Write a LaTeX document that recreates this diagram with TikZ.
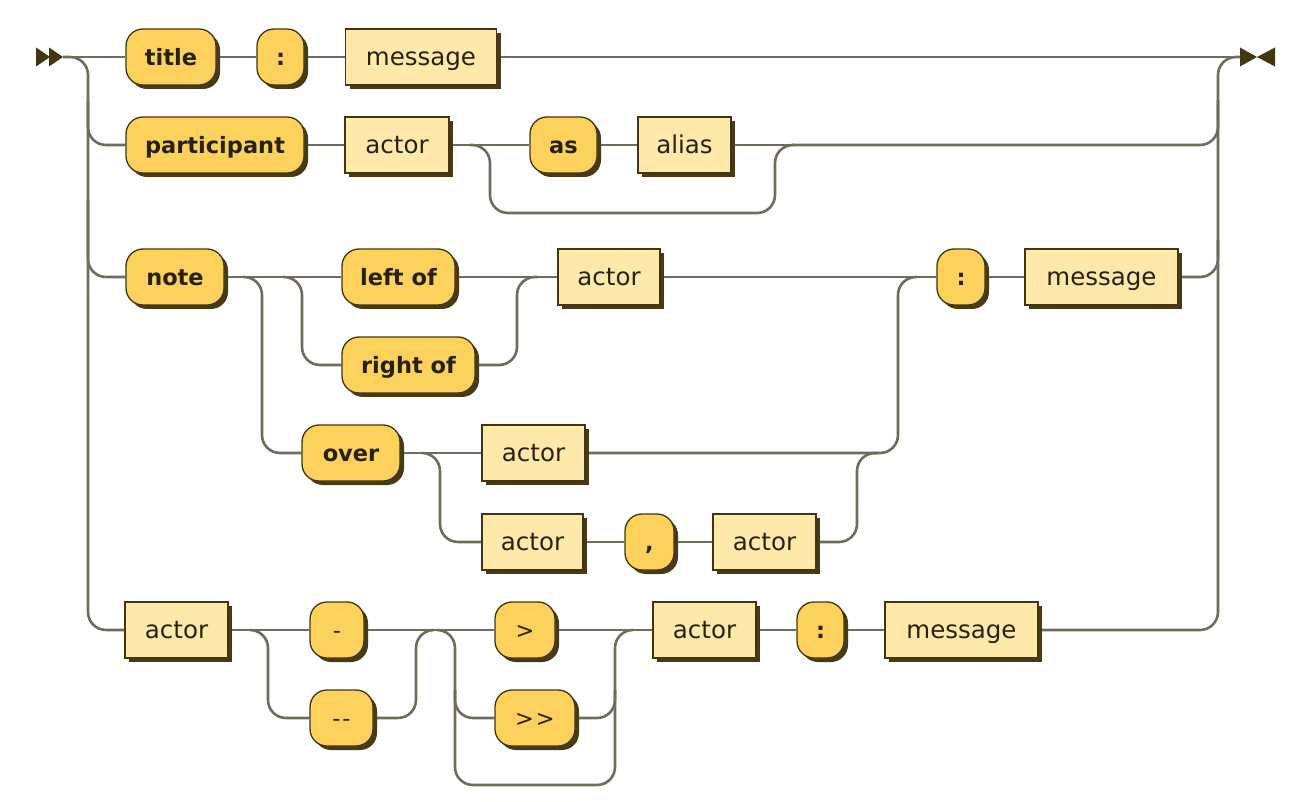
\documentclass[tikz,border=0pt]{standalone}
\usepackage{fontspec}
\setmainfont[Ligatures=NoCommon]{DejaVu Sans}
\usetikzlibrary{backgrounds}
\definecolor{termfill}{RGB}{253,210,92}
\definecolor{ntfill}{RGB}{255,233,170}
\definecolor{edgec}{RGB}{66,54,18}
\definecolor{shd}{RGB}{72,58,18}
\definecolor{railc}{RGB}{112,107,92}
\definecolor{txt}{RGB}{38,33,18}
\tikzset{
 base/.style={draw=edgec, line width=1.3pt, minimum height=56pt, inner sep=0pt, text=txt,
   text height=18pt, text depth=1pt,
   preaction={fill=shd, transform canvas={xshift=4pt,yshift=-4pt}}},
 term/.style={base, fill=termfill, rounded corners=17pt, font=\fontsize{22.5}{24}\selectfont\bfseries},
 nonterm/.style={base, fill=ntfill, font=\fontsize{24.5}{26}\selectfont},
 rail/.style={draw=railc, line width=2.6pt, rounded corners=18pt},
 tip/.style={fill=edgec},
}
\begin{document}
\begin{tikzpicture}[x=1pt,y=-1pt]
\useasboundingbox (0,0) rectangle (1310,802);

% row 1
\node[term, minimum width=90pt] (title) at (171,57) {title};
\node[term, minimum width=47pt] (colonA) at (280.5,57) {:};
\node[nonterm, minimum width=151pt] (msgA) at (421,57) {message};
% row 2
\node[term, minimum width=178pt] (part) at (215,145) {participant};
\node[nonterm, minimum width=104pt] (actA) at (397,145) {actor};
\node[term, minimum width=67pt] (as) at (563.5,145) {as};
\node[nonterm, minimum width=93pt] (alias) at (684.5,145) {alias};
% row 3
\node[term, minimum width=98pt] (note) at (175,277) {note};
\node[term, minimum width=113pt] (leftof) at (398.5,277) {left of};
\node[term, minimum width=133pt] (rightof) at (408.5,365) {right of};
\node[nonterm, minimum width=102pt] (actB) at (609,277) {actor};
\node[term, minimum width=48pt] (colonB) at (961,277) {:};
\node[nonterm, minimum width=153pt] (msgB) at (1101.5,277) {message};
\node[term, minimum width=98pt] (over) at (351,453) {over};
\node[nonterm, minimum width=103pt] (actC) at (533.5,453) {actor};
\node[nonterm, minimum width=101pt] (actD) at (532.5,542) {actor};
\node[term, minimum width=49pt] (comma) at (649.5,542) {,};
\node[nonterm, minimum width=103pt] (actE) at (764.5,542) {actor};
% row 4
\node[nonterm, minimum width=103pt] (actF) at (176.5,630) {actor};
\node[term, minimum width=54pt] (minus) at (337,630) {\mdseries -};
\node[term, minimum width=63pt] (dminus) at (341.5,718) {\mdseries -\kern2pt-};
\node[term, minimum width=60pt] (gt) at (525,630) {\mdseries >};
\node[term, minimum width=80pt] (ggt) at (535,718) {\mdseries >\kern2pt>};
\node[nonterm, minimum width=103pt] (actG) at (704.5,630) {actor};
\node[term, minimum width=47pt] (colonC) at (820.5,630) {:};
\node[nonterm, minimum width=153pt] (msgC) at (961.5,630) {message};

% start / end marks
\coordinate (s0) at (63,57);
\coordinate (e0) at (1240,57);
\fill[tip] (36,47.5) -- (50,57) -- (36,66.5) -- cycle;
\fill[tip] (49,47.5) -- (s0) -- (49,66.5) -- cycle;
\fill[tip] (1240,47.5) -- (1257,57) -- (1240,66.5) -- cycle;
\fill[tip] (1275,47.5) -- (1257,57) -- (1275,66.5) -- cycle;

% junctions
\coordinate (b2a) at (470,145);
\coordinate (b2b) at (792,145);
\coordinate (j3a) at (243,277);
\coordinate (j3b) at (283,277);
\coordinate (j3c) at (537,277);
\coordinate (j3d) at (422,453);
\coordinate (j3e) at (877,453);
\coordinate (j3f) at (917,277);
\coordinate (j4a) at (250,630);
\coordinate (j4b) at (434,630);
\coordinate (j4c) at (437,630);
\coordinate (j4d) at (633,630);
\coordinate (j4e) at (455,690);
\coordinate (j4f) at (615,690);

\begin{pgfonlayer}{background}
\fill[white] (0,0) rectangle (1310,802);
% left rail
\draw[rail] (s0) -- (title.west);
\draw[rail] (s0) -| (88,400) |- (actF.west);
\draw[rail] (88,100) |- (part.west);
\draw[rail] (88,200) |- (note.west);
% right rail
\draw[rail] (msgA.east) -- (e0);
\draw[rail] (msgC.east) -| (1218,400) |- (e0);
\draw[rail] (b2b) -| (1218,100);
\draw[rail] (msgB.east) -| (1218,240);
% row 1
\draw[rail] (title.east) -- (colonA.west);
\draw[rail] (colonA.east) -- (msgA.west);
% row 2
\draw[rail] (part.east) -- (actA.west);
\draw[rail] (actA.east) -- (as.west);
\draw[rail] (as.east) -- (alias.west);
\draw[rail] (alias.east) -- (b2b);
\draw[rail] (b2a) -- (490,145) -- (490,213) -- (775,213) -- (775,145) -- (b2b);
% row 3
\draw[rail] (note.east) -- (leftof.west);
\draw[rail] (j3a) -- (262,277) |- (over.west);
\draw[rail] (j3b) -- (302,277) |- (rightof.west);
\draw[rail] (rightof.east) -| (517,320) |- (j3c);
\draw[rail] (leftof.east) -- (actB.west);
\draw[rail] (actB.east) -- (colonB.west);
\draw[rail] (colonB.east) -- (msgB.west);
\draw[rail] (over.east) -- (actC.west);
\draw[rail] (j3d) -- (440,453) |- (actD.west);
\draw[rail] (actD.east) -- (comma.west);
\draw[rail] (comma.east) -- (actE.west);
\draw[rail] (actE.east) -| (857,500) |- (j3e);
\draw[rail] (actC.east) -| (898,350) |- (j3f);
% row 4
\draw[rail] (actF.east) -- (minus.west);
\draw[rail] (j4a) -- (268,630) |- (dminus.west);
\draw[rail] (dminus.east) -| (416,680) |- (j4b);
\draw[rail] (minus.east) -- (gt.west);
\draw[rail] (j4c) -- (455,630) -- (455,785) -- (615,785) -- (615,630) -- (j4d);
\draw[rail] (j4e) |- (ggt.west);
\draw[rail] (ggt.east) -| (j4f);
\draw[rail] (gt.east) -- (actG.west);
\draw[rail] (actG.east) -- (colonC.west);
\draw[rail] (colonC.east) -- (msgC.west);
\end{pgfonlayer}
\end{tikzpicture}
\end{document}
